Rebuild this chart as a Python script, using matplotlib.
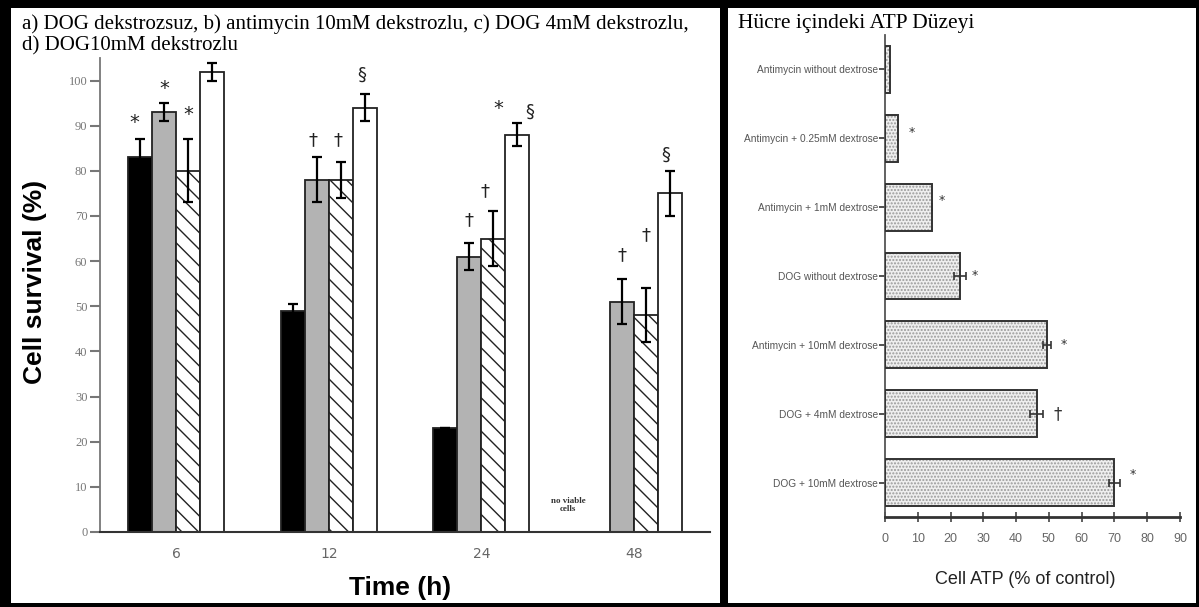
import numpy as np
import matplotlib.pyplot as plt
from matplotlib.patches import Rectangle

W, H = 1199, 607

# left chart: cell survival (%) over time
times = ['6', '12', '24', '48']
surv_dog0 = [83, 49, 23, np.nan]
surv_anti10 = [93, 78, 61, 51]
surv_dog4 = [80, 78, 65, 48]
surv_dog10 = [102, 94, 88, 75]
err_dog0 = [4, 1.5, 0, np.nan]
err_anti10 = [2, 5, 3, 5]
err_dog4 = [7, 4, 6, 6]
err_dog10 = [2, 3, 2.5, 5]

# (time index, series index, symbol, dx px, dy px above error cap)
surv_marks = [(0, 0, '*', -6, 17), (0, 1, '*', 0, 15), (0, 2, '*', 0, 25),
              (1, 1, '†', -4, 17), (1, 2, '†', -3, 22), (1, 3, '§', -3, 19),
              (2, 1, '†', 0, 23), (2, 2, '†', -8, 20), (2, 3, '*', -19, 15),
              (2, 3, '§', 13, 12), (3, 1, '†', 0, 24), (3, 2, '†', 0, 53),
              (3, 3, '§', -4, 16)]

# right chart: cell ATP (% of control)
atp_labels = ['Antimycin without dextrose', 'Antimycin + 0.25mM dextrose',
              'Antimycin + 1mM dextrose', 'DOG without dextrose',
              'Antimycin + 10mM dextrose', 'DOG + 4mM dextrose',
              'DOG + 10mM dextrose']
atp_vals = [1.5, 4, 14.3, 22.8, 49.3, 46.3, 70]
atp_err = [0, 0, 0, 1.8, 1.2, 2.0, 1.8]
atp_marks = [(1, '*', 14, -6), (2, '*', 10, -7), (3, '*', 9, 0),
             (4, '*', 13, 0), (5, '†', 14, 0), (6, '*', 12, -8)]


def fx(x):
  return x / W

def fy(y):
  return 1 - y / H


plt.rcParams['hatch.linewidth'] = 1.0
fig = plt.figure(figsize=(W / 100, H / 100), dpi=100, facecolor='black')

# white panels on the black frame
fig.add_artist(Rectangle((fx(11), fy(603)), fx(720 - 11), (603 - 8) / H, zorder=-10,
                         transform=fig.transFigure, facecolor='white', edgecolor='none'))
fig.add_artist(Rectangle((fx(728), fy(603)), fx(1196 - 728), (603 - 8) / H, zorder=-10,
                         transform=fig.transFigure, facecolor='white', edgecolor='none'))

serif = 'Liberation Serif'
sans = 'Liberation Sans'
fig.text(fx(22), fy(14), 'a) DOG dekstrozsuz, b) antimycin 10mM dekstrozlu, c) DOG 4mM dekstrozlu,\n'
         'd) DOG10mM dekstrozlu', family=serif, fontsize=15, va='top', ha='left',
         linespacing=1.2)
fig.text(fx(738), fy(14), 'Hücre içindeki ATP Düzeyi', family=serif, fontsize=15.5,
         va='top', ha='left')

# ---- left chart ----
ax = fig.add_axes([fx(100), fy(532), fx(610), 474 / H])
x = np.arange(len(times))
bw = 0.157
vals = [surv_dog0, surv_anti10, surv_dog4, surv_dog10]
errs = [err_dog0, err_anti10, err_dog4, err_dog10]
faces = ['black', '#b3b3b3', 'white', 'white']
hatches = [None, None, '\\\\', None]

for i in range(4):
  xi = x + (i - 1.5) * bw
  ax.bar(xi, vals[i], bw, color=faces[i], edgecolor='#222222', linewidth=1.3,
         hatch=hatches[i], zorder=2)
  ax.errorbar(xi, vals[i], yerr=errs[i], fmt='none', ecolor='black',
              elinewidth=1.6, capsize=3.6, capthick=1.6, zorder=3)

for ti, si, sym, dx, dy in surv_marks:
  xi = x[ti] + (si - 1.5) * bw
  top = vals[si][ti] + errs[si][ti]
  ax.annotate(sym, (xi, top), xytext=(dx * 0.72, dy * 0.72), textcoords='offset points',
              ha='center', va='center', fontsize=13 if sym != '*' else 14,
              family='DejaVu Sans', color='#222222')

ax.text(x[3] - 2.75 * bw, 6, 'no viable\ncells', family=serif, fontsize=6.5,
        fontweight='bold', ha='center', va='center', color='#333333', linespacing=1.0)

ax.set_xlim(-0.5, 3.5)
ax.set_ylim(0, 105)
ax.set_yticks(np.arange(0, 101, 10))
ax.set_xticks(x)
ax.set_xticklabels(times)
for s in ['top', 'right']:
  ax.spines[s].set_visible(False)
ax.spines['left'].set_color('#777777')
ax.spines['left'].set_linewidth(1.3)
ax.spines['bottom'].set_color('#333333')
ax.spines['bottom'].set_linewidth(1.5)
ax.tick_params(axis='y', length=7, width=1.5, color='#777777', labelsize=9,
               labelcolor='#777777', pad=2)
ax.tick_params(axis='x', length=0, labelsize=10, labelcolor='#666666', pad=11)
for lab in ax.get_yticklabels():
  lab.set_family(serif)
ax.set_facecolor('none')

fig.text(fx(35), fy(282), 'Cell survival (%)', rotation=90, fontsize=19,
         fontweight='bold', family=sans, ha='center', va='center')
fig.text(fx(400), fy(588), 'Time (h)', fontsize=19, fontweight='bold',
         family=sans, ha='center', va='center')

# ---- right chart ----
ax2 = fig.add_axes([fx(885), fy(517), fx(295), 482 / H])
y = np.arange(len(atp_labels))
ax2.barh(y, atp_vals, 0.68, color='#efefef', edgecolor='#9a9a9a', linewidth=0,
         hatch='.....', zorder=2)
ax2.barh(y, atp_vals, 0.68, color='none', edgecolor='#333333', linewidth=1.4, zorder=3)
ax2.errorbar(atp_vals, y, xerr=atp_err, fmt='none', ecolor='#333333', elinewidth=1.2,
             capsize=3, capthick=1.2, zorder=4)
for yi, sym, dx, dy in atp_marks:
  ax2.annotate(sym, (atp_vals[yi] + atp_err[yi], yi), xytext=(dx * 0.72, -dy * 0.72),
               textcoords='offset points', ha='center', va='center',
               fontsize=9 if sym == '*' else 12, family='DejaVu Sans', color='#333333')

ax2.set_ylim(6.5, -0.5)
ax2.set_xlim(0, 90)
ax2.set_yticks(y)
ax2.set_yticklabels(atp_labels, family=sans)
ax2.set_xticks(np.arange(0, 91, 10))
for lab in ax2.get_xticklabels():
  lab.set_family(sans)
for s in ['top', 'right']:
  ax2.spines[s].set_visible(False)
ax2.spines['left'].set_color('#555555')
ax2.spines['left'].set_linewidth(1.3)
ax2.spines['bottom'].set_color('#333333')
ax2.spines['bottom'].set_linewidth(2)
ax2.tick_params(axis='y', length=4, width=1.3, color='#444444', labelsize=7.3,
                labelcolor='#555555', pad=1)
ax2.tick_params(axis='x', direction='inout', length=7, width=1.2, color='#444444',
                labelsize=9, labelcolor='#666666', pad=8)
ax2.set_facecolor('none')

fig.text(fx(1025), fy(580), 'Cell ATP (% of control)', fontsize=13, family=sans,
         ha='center', va='center', color='#222222')

fig.savefig('out.png', dpi=100, facecolor=fig.get_facecolor())
